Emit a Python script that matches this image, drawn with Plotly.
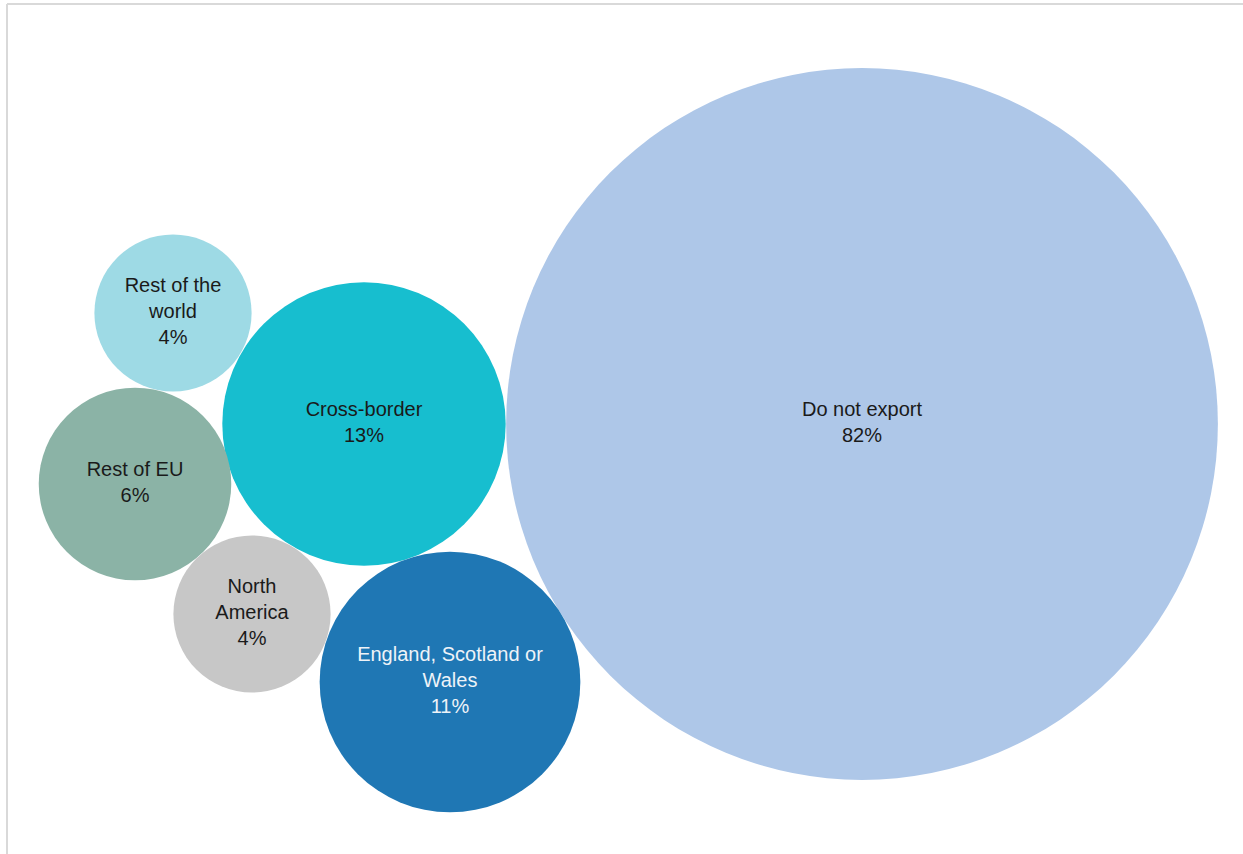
import plotly.graph_objects as go

# Data
categories = ["Do not export", "Cross-border", "England, Scotland or Wales",
              "Rest of EU", "Rest of the world", "North America"]
labels = ["Do not export", "Cross-border", "England, Scotland or<br>Wales",
          "Rest of EU", "Rest of the<br>world", "North<br>America"]
values = [82, 13, 11, 6, 4, 4]
# bubble coordinates (chart units)
x_pos = [862, 364, 450, 135, 173, 252]
y_pos = [424, 424, 682, 484, 313, 614]

colors = ["#aec7e8", "#17becf", "#1f77b4", "#8bb3a6", "#9edae5", "#c7c7c7"]
text_colors = ["#1a1a1a", "#1a1a1a", "#eef3f8", "#1a1a1a", "#1a1a1a", "#1a1a1a"]

texts = [f"{l}<br>{v}%" for l, v in zip(labels, values)]

px_per_sqrt = 78.6  # diameter in px per sqrt(value)
sizeref = 2.0 / (px_per_sqrt ** 2)

fig = go.Figure()
fig.add_trace(go.Scatter(
    x=x_pos, y=y_pos, mode="markers+text",
    text=texts, textposition="middle center",
    textfont=dict(family="Liberation Sans, Arial, sans-serif", size=20, color=text_colors),
    marker=dict(size=values, sizemode="area", sizeref=sizeref, color=colors,
                opacity=1, line=dict(width=0)),
    hovertext=categories, hoverinfo="text",
    cliponaxis=True,
))

W, H = 1243, 854
R = 25
fig.update_layout(
    width=W, height=H,
    margin=dict(l=0, r=R, t=0, b=0),
    paper_bgcolor="white", plot_bgcolor="white",
    showlegend=False,
    xaxis=dict(range=[0, W - R], visible=False, fixedrange=True),
    yaxis=dict(range=[H, 0], visible=False, fixedrange=True),
    shapes=[
        dict(type="line", xref="paper", yref="paper",
             x0=7 / (W - R), x1=1.05, y0=1 - 4 / H, y1=1 - 4 / H,
             line=dict(color="#d9d9d9", width=2)),
        dict(type="line", xref="paper", yref="paper",
             x0=7 / (W - R), x1=7 / (W - R), y0=-0.05, y1=1 - 4 / H,
             line=dict(color="#d9d9d9", width=2)),
    ],
)

fig.write_html("out.html",
               config={"displayModeBar": False},
               post_script="document.body.style.margin='0';document.body.style.overflow='hidden';")
